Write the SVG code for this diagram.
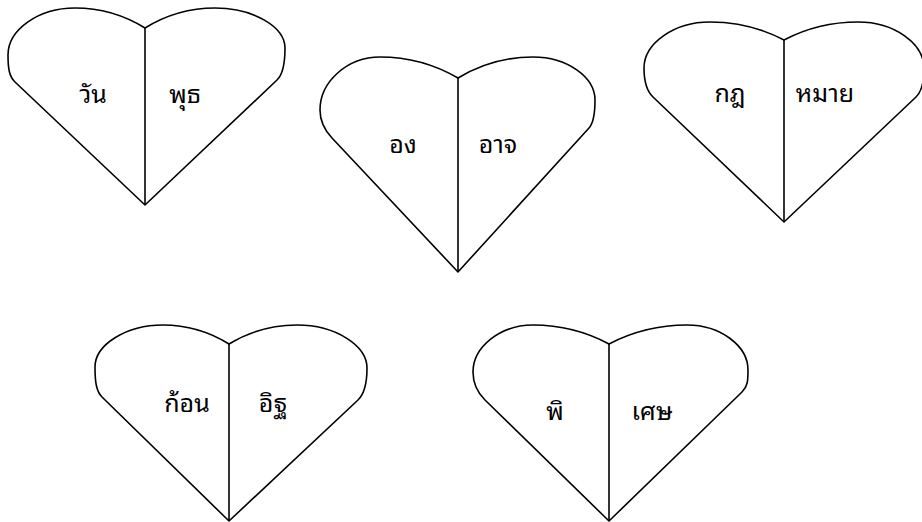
<svg xmlns="http://www.w3.org/2000/svg" width="922" height="522" viewBox="0 0 922 522">
<style>
.heart{fill:#fff;stroke:#000;stroke-width:1.6;stroke-linejoin:round}
.div{stroke:#000;stroke-width:1.6}
.lbl{font-family:"Noto Sans Thai Looped","Noto Serif Thai","Norasi","Garuda","Loma","Noto Sans Thai","Noto Sans","DejaVu Sans",sans-serif;font-size:25px;font-weight:400;fill:#000;text-anchor:middle}
</style>
<rect width="922" height="522" fill="#fff"/>
<g id="heart1">
<path class="heart" d="M145,28 C124,15 100,8 75,8 C38,8 8,30 8,55 C8,68.5 9.2,76.5 15,82 L145,205 L277,80 C282.8,74.5 285,64 285,48 C285,27 253.5,8 215,8 C190.5,8 166,15 145,28 Z"/>
<line class="div" x1="145" y1="28" x2="145" y2="205"/>
<text class="lbl" x="93" y="103">วัน</text>
<text class="lbl" x="185" y="103">พุธ</text>
</g>
<g id="heart2">
<path class="heart" d="M458,78 C434.6,64.4 407.3,57 380,57 C347,57 320,82 320,110 C320,124 326.5,132.2 332,138 L458,272 L589,128 C593.7,122.8 595,114 595,100 C595,77 567,57 533,57 C506.8,57 480.5,64.4 458,78 Z"/>
<line class="div" x1="458" y1="78" x2="458" y2="272"/>
<text class="lbl" x="403" y="153">อง</text>
<text class="lbl" x="498" y="153">อาจ</text>
</g>
<g id="heart3">
<path class="heart" d="M784,40 C761.8,28.3 735.9,22 710,22 C673.7,22 644,43.5 644,68 C644,82.5 647.2,91.5 653,97 L784,222 L916,97 C921.8,91.5 924,82.5 924,68 C924,43.5 894.3,22 858,22 C832.1,22 806.2,28.3 784,40 Z"/>
<line class="div" x1="784" y1="40" x2="784" y2="222"/>
<text class="lbl" x="730" y="102">กฎ</text>
<text class="lbl" x="825" y="102">หมาย</text>
</g>
<g id="heart4">
<path class="heart" d="M229,344 C209.2,331.7 186.1,325 163,325 C125.6,325 95,345 95,367 C95,382 96.3,391.4 102,397 L229,521 L358,400 C363.8,394.5 367,384 367,368 C367,345.5 335.5,325 297,325 C273.2,325 249.4,331.7 229,344 Z"/>
<line class="div" x1="229" y1="344" x2="229" y2="521"/>
<text class="lbl" x="187" y="412">ก้อน</text>
<text class="lbl" x="273" y="412">อิฐ</text>
</g>
<g id="heart5">
<path class="heart" d="M609,344 C586.2,331.7 559.6,325 533,325 C500,325 473,347 473,372 C473,386 479.3,394.4 485,400 L609,521 L742,392 C747.7,386.4 748,381 748,370 C748,346 720.6,325 687,325 C659.7,325 632.4,331.7 609,344 Z"/>
<line class="div" x1="609" y1="344" x2="609" y2="521"/>
<text class="lbl" x="555" y="420">พิ</text>
<text class="lbl" x="652" y="420">เศษ</text>
</g>
</svg>
